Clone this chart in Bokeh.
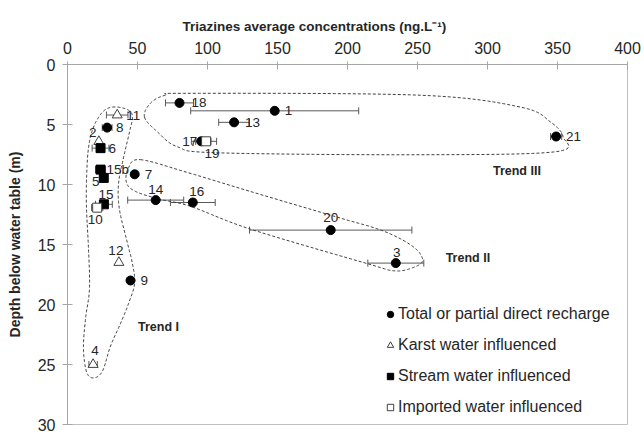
import numpy as np
from bokeh.plotting import figure
from bokeh.models import (ColumnDataSource, Range1d, Whisker, TeeHead, Legend,
                          LegendItem, FixedTicker, Title)
from bokeh.core.properties import value
from bokeh.embed import file_html
from bokeh.resources import INLINE

# ---------------- data ----------------
dot_ids = ["1", "3", "7", "8", "9", "13", "14", "16", "17", "18", "20", "21"]
dot_conc = [148, 234.5, 48, 28.3, 45, 119, 63, 89.5, 95.5, 80, 188, 349]
dot_err = [60, 20, 0, 3.5, 1.5, 11, 20, 16, 7, 10, 58, 4]
dot_depth = [3.86, 16.55, 9.15, 5.26, 18.0, 4.82, 11.3, 11.5, 6.4, 3.2, 13.8, 6.0]

karst_ids = ["2", "4", "11", "12"]
karst_conc = [22.4, 18.3, 35.5, 36.7]
karst_err = [0, 3, 7.7, 0]
karst_depth = [6.42, 25.0, 4.21, 16.5]

stream_ids = ["5", "6", "15b", "15"]
stream_conc = [25.9, 23.6, 23.6, 26.0]
stream_err = [0, 6, 3.6, 6]
stream_depth = [9.45, 6.97, 8.76, 11.65]

imported_ids = ["10", "19"]
imported_conc = [21.2, 99.0]
imported_err = [4, 7.5]
imported_depth = [11.93, 6.4]

x_ticks = [0, 50, 100, 150, 200, 250, 300, 350, 400]
y_ticks = [0, 5, 10, 15, 20, 25, 30]

x_title = "Triazines average concentrations (ng.L\u207b\u00b9)"
y_title = "Depth below water table (m)"
legend_labels = ["Total or partial direct recharge", "Karst water influenced",
                 "Stream water influenced", "Imported water influenced"]

# hand-drawn trend envelopes (outline control points, data units)
trend1_x = [32.1, 42.1, 46.4, 44.3, 40.0, 36.4, 37.1, 42.1, 46.4, 47.9, 43.6, 37.9,
            30.7, 25.0, 18.6, 13.6, 11.4, 12.9, 15.7, 15.0, 13.6, 13.6, 15.0, 18.6, 25.0]
trend1_y = [3.55, 3.72, 4.30, 5.62, 7.77, 10.0, 12.07, 14.55, 16.61, 18.26, 19.92, 21.57,
            23.47, 25.54, 26.12, 25.62, 23.64, 21.16, 18.68, 15.37, 12.07, 9.59, 6.94, 5.21, 3.97]
trend2_x = [52.1, 85.7, 132.9, 192.9, 225.7, 247.1, 253.6, 245.0, 232.9, 214.3,
            130.7, 87.9, 66.4, 48.6, 42.1, 43.6]
trend2_y = [7.93, 9.0, 10.66, 12.73, 13.88, 15.2, 16.36, 17.0, 17.19, 16.6,
            13.72, 11.82, 11.24, 10.58, 9.83, 8.6]
trend3_x = [55.0, 59.3, 70.0, 87.9, 252.0, 323.6, 345.0, 354.0, 348.6, 252.0,
            107.9, 78.6, 64.3]
trend3_y = [4.38, 3.22, 2.56, 2.4, 2.56, 3.55, 4.79, 6.03, 7.27, 7.52,
            7.36, 6.86, 5.62]
trend_names = ["Trend I", "Trend II", "Trend III"]

# label placement (screen offsets px, alignment)
label_style = {
    "1": (10, 0, "left"), "3": (1, -11, "center"), "7": (10, 0, "left"),
    "8": (9, 0, "left"), "9": (10, 0, "left"), "13": (11, 0, "left"),
    "14": (0, -11, "center"), "16": (4, -11, "center"), "17": (-4, 0, "right"),
    "18": (12, 0, "left"), "20": (0, -13, "center"), "21": (10, 0, "left"),
    "2": (-6, -9, "center"), "4": (2, -14, "center"), "11": (9, 0, "left"),
    "12": (-3, -12, "center"), "5": (-8, 4, "center"), "6": (8, 0, "left"),
    "15b": (6, 0, "left"), "15": (2, -10, "center"), "10": (-2, 12, "center"),
    "19": (6, 12, "center"),
}

FONT = "Liberation Sans"
TXT = "#262626"
AX = "#a6a6a6"


def closed_spline(xs, ys, n=16):
    px = np.asarray(xs, float)
    py = np.asarray(ys, float)
    m = len(px)
    ox, oy = [], []
    for i in range(m):
        p0, p1, p2, p3 = (i - 1) % m, i, (i + 1) % m, (i + 2) % m
        for t in np.linspace(0, 1, n, endpoint=False):
            t2, t3 = t * t, t * t * t
            def cr(a):
                return 0.5 * ((2 * a[p1]) + (-a[p0] + a[p2]) * t +
                              (2 * a[p0] - 5 * a[p1] + 4 * a[p2] - a[p3]) * t2 +
                              (-a[p0] + 3 * a[p1] - 3 * a[p2] + a[p3]) * t3)
            ox.append(cr(px))
            oy.append(cr(py))
    ox.append(ox[0])
    oy.append(oy[0])
    return ox, oy


p = figure(frame_width=560, frame_height=360, output_backend="svg", toolbar_location=None,
           x_range=Range1d(0, 400), y_range=Range1d(30, 0), x_axis_location="above",
           min_border_left=67, min_border_right=17, min_border_top=64, min_border_bottom=10)
p.xgrid.visible = False
p.ygrid.visible = False
p.outline_line_color = "#bfbfbf"
p.background_fill_color = "white"
p.border_fill_color = "white"

for ax, ticks in ((p.xaxis, x_ticks), (p.yaxis, y_ticks)):
    ax.ticker = FixedTicker(ticks=ticks)
    ax.axis_line_color = AX
    ax.major_tick_line_color = AX
    ax.minor_tick_line_color = None
    ax.major_label_text_font = FONT
    ax.major_label_text_font_size = "16px"
    ax.major_label_text_color = TXT

p.xaxis.major_tick_in = 5
p.xaxis.major_tick_out = 3
p.xaxis.major_label_standoff = 8
p.yaxis.major_tick_in = 5
p.yaxis.major_tick_out = 5
p.yaxis.major_label_standoff = 7
p.yaxis.axis_label = y_title
p.yaxis.axis_label_text_font = FONT
p.yaxis.axis_label_text_font_style = "bold"
p.yaxis.axis_label_text_color = TXT
p.yaxis.axis_label_text_font_size = "14px"
p.yaxis.axis_label_standoff = 12

p.add_layout(Title(text=x_title, align="left", offset=115, text_font=FONT,
                   text_font_size="13.5px", text_font_style="bold", text_color=TXT,
                   standoff=9), "above")

# trend envelopes
for tx, ty in ((trend1_x, trend1_y), (trend2_x, trend2_y), (trend3_x, trend3_y)):
    sx, sy = closed_spline(tx, ty)
    p.line(sx, sy, line_color="#404040", line_width=1, line_dash="3 2")

# error bars
all_conc = dot_conc + karst_conc + stream_conc + imported_conc
all_err = dot_err + karst_err + stream_err + imported_err
all_depth = dot_depth + karst_depth + stream_depth + imported_depth
eb = [(c, e, d) for c, e, d in zip(all_conc, all_err, all_depth) if e > 0]
err_src = ColumnDataSource(dict(y=[d for c, e, d in eb],
                                lower=[c - e for c, e, d in eb],
                                upper=[c + e for c, e, d in eb]))
w = Whisker(source=err_src, base="y", lower="lower", upper="upper", dimension="width",
            line_color="#595959", line_width=1, level="underlay",
            upper_head=TeeHead(size=7, line_color="#595959", line_width=1),
            lower_head=TeeHead(size=7, line_color="#595959", line_width=1))
p.add_layout(w)

r_dot = p.scatter(dot_conc, dot_depth, marker="circle", size=9,
                  fill_color="black", line_color="black")
r_karst = p.scatter(karst_conc, karst_depth, marker="triangle", size=10,
                    fill_color="white", line_color="#404040", line_width=1)
r_stream = p.scatter(stream_conc, stream_depth, marker="square", size=9,
                     fill_color="black", line_color="black")
r_imp = p.scatter(imported_conc, imported_depth, marker="square", size=9,
                  fill_color="white", line_color="#404040", line_width=1)

# point labels
ids = dot_ids + karst_ids + stream_ids + imported_ids
lab_src = ColumnDataSource(dict(
    x=all_conc, y=all_depth, text=ids,
    dx=[label_style[i][0] for i in ids],
    dy=[label_style[i][1] for i in ids],
    align=[label_style[i][2] for i in ids]))
p.text(x="x", y="y", text="text", x_offset="dx", y_offset="dy", text_align="align",
       text_baseline="middle", text_font=value(FONT), text_font_size="13.5px",
       text_color=TXT, source=lab_src)

# trend labels
trend_x = [65, 286, 321]
trend_y = [21.9, 16.1, 8.84]
p.text(x=trend_x, y=trend_y, text=trend_names, text_align="center",
       text_baseline="middle", text_font=value(FONT), text_font_size="12.5px",
       text_font_style="bold", text_color=TXT)

legend = Legend(items=[LegendItem(label=legend_labels[0], renderers=[r_dot]),
                       LegendItem(label=legend_labels[1], renderers=[r_karst]),
                       LegendItem(label=legend_labels[2], renderers=[r_stream]),
                       LegendItem(label=legend_labels[3], renderers=[r_imp])],
                location=(315, 8), orientation="vertical",
                glyph_width=16, glyph_height=16, label_height=15, spacing=13,
                label_standoff=0, padding=0, margin=0,
                border_line_alpha=0, background_fill_alpha=0,
                label_text_font=FONT, label_text_font_size="16px", label_text_color=TXT)
p.add_layout(legend, "center")

open("out.html", "w").write(file_html(p, INLINE))
